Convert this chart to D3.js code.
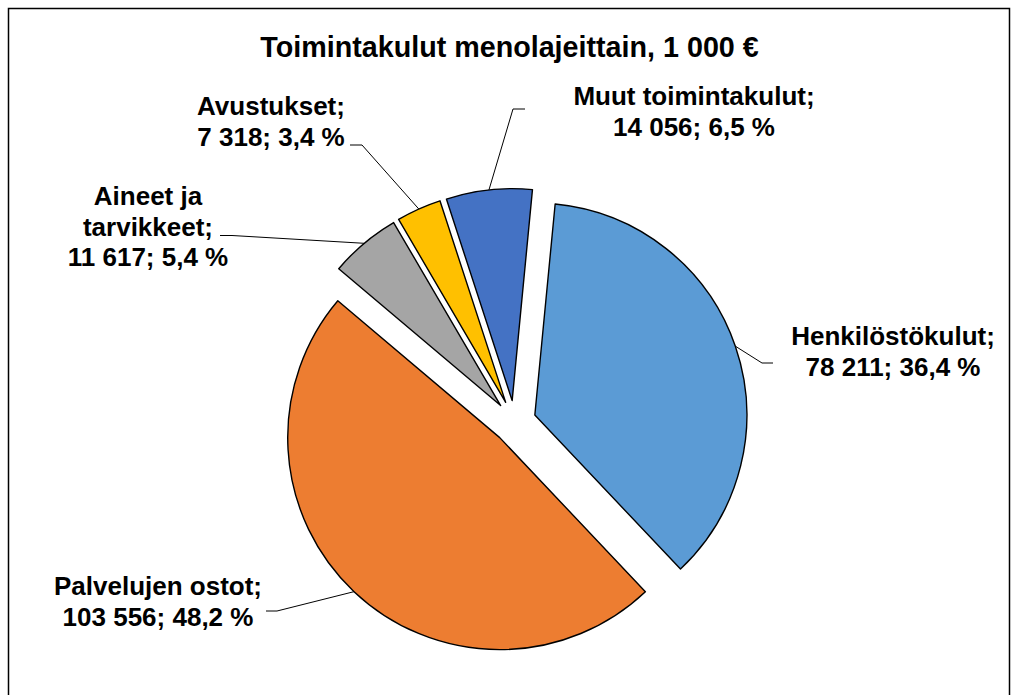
<!DOCTYPE html>
<html>
<head>
<meta charset="utf-8">
<script src="https://cdn.jsdelivr.net/npm/d3@7"></script>
<style>
  html, body { margin: 0; padding: 0; background: #fff; }
  svg { display: block; }
  text { font-family: "Liberation Sans", Arial, sans-serif; font-weight: bold; fill: #000; }
</style>
</head>
<body>
<svg id="chart" width="1018" height="695"></svg>
<script>
// ---- data ----
const categories = ["Henkilöstökulut", "Palvelujen ostot", "Aineet ja tarvikkeet", "Avustukset", "Muut toimintakulut"];
const values = [78211, 103556, 11617, 7318, 14056];
const valueLabels = ["78 211", "103 556", "11 617", "7 318", "14 056"];
const percentLabels = ["36,4 %", "48,2 %", "5,4 %", "3,4 %", "6,5 %"];
const labelLines = [
  ["Henkilöstökulut;", "78 211; 36,4 %"],
  ["Palvelujen ostot;", "103 556; 48,2 %"],
  ["Aineet ja", "tarvikkeet;", "11 617; 5,4 %"],
  ["Avustukset;", "7 318; 3,4 %"],
  ["Muut toimintakulut;", "14 056; 6,5 %"]
];
const colors = ["#5B9BD5", "#ED7D31", "#A5A5A5", "#FFC000", "#4472C4"];
const title = "Toimintakulut menolajeittain, 1 000 €";

// ---- layout ----
const W = 1018, H = 695;
const cx = 514.5, cy = 422, R = 212, explode = 21.5;
const startDeg = 5.5;
// label layout: center x, first baseline, elbow point, leader end
const labelLayout = [
  { x: 893, y: 345, elbow: [762, 363], end: [773, 363] },
  { x: 158, y: 595, elbow: [277, 611], end: [266, 611] },
  { x: 148, y: 205, elbow: [232, 235.5], end: [220, 235.5] },
  { x: 271, y: 115, elbow: [362, 145], end: [350, 145] },
  { x: 694, y: 105, elbow: [513, 109], end: [525, 109] }
];
const lineH = 30.5;

const svg = d3.select("#chart");

// chart border
svg.append("rect")
  .attr("x", 8.5).attr("y", 8.5)
  .attr("width", 1001).attr("height", 720)
  .attr("fill", "#fff").attr("stroke", "#000").attr("stroke-width", 1.5);

// title
svg.append("text")
  .attr("x", 509.5).attr("y", 57)
  .attr("text-anchor", "middle")
  .style("font-size", "28.7px")
  .text(title);

const start = startDeg * Math.PI / 180;
const pie = d3.pie().sort(null).value(d => d).startAngle(start).endAngle(start + 2 * Math.PI);
const arcs = pie(values);
const arcGen = d3.arc().innerRadius(0).outerRadius(R);

const g = svg.append("g").attr("transform", `translate(${cx},${cy})`);

arcs.forEach((a, i) => {
  const mid = (a.startAngle + a.endAngle) / 2;
  const dx = explode * Math.sin(mid), dy = -explode * Math.cos(mid);
  g.append("path")
    .attr("d", arcGen(a))
    .attr("transform", `translate(${dx},${dy})`)
    .attr("fill", colors[i])
    .attr("stroke", "#000")
    .attr("stroke-width", 1.4)
    .attr("stroke-linejoin", "round");
});

// leader lines and labels
arcs.forEach((a, i) => {
  const mid = (a.startAngle + a.endAngle) / 2;
  const ax = cx + (explode + R) * Math.sin(mid);
  const ay = cy - (explode + R) * Math.cos(mid);
  const L = labelLayout[i];
  svg.append("polyline")
    .attr("points", [[ax, ay], L.elbow, L.end].map(p => p.join(",")).join(" "))
    .attr("fill", "none").attr("stroke", "#000").attr("stroke-width", 1);
  const t = svg.append("text")
    .attr("text-anchor", "middle")
    .style("font-size", "26px");
  labelLines[i].forEach((ln, k) => {
    t.append("tspan").attr("x", L.x).attr("y", L.y + k * lineH).text(ln);
  });
});
</script>
</body>
</html>
